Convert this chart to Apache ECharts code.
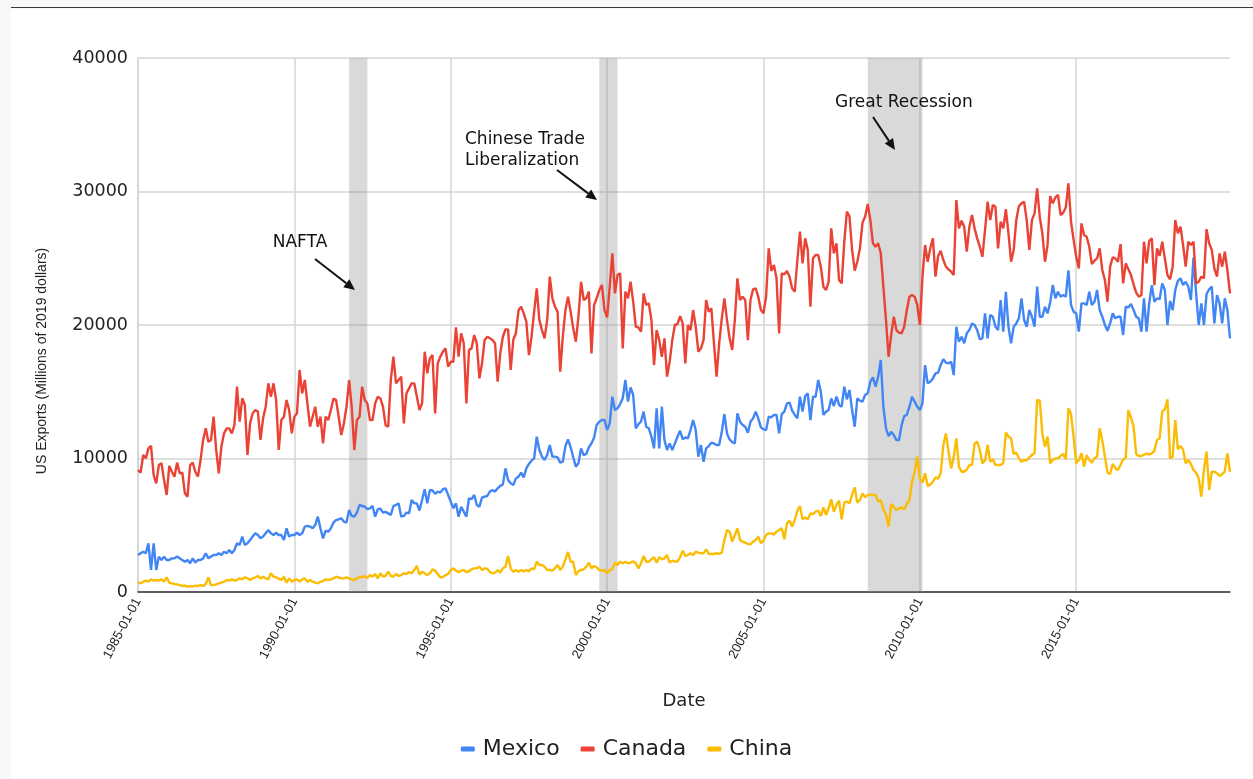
<!DOCTYPE html>
<html>
<head>
<meta charset="utf-8">
<title>US Exports to Mexico, Canada and China</title>
<script src="https://cdn.jsdelivr.net/npm/echarts/dist/echarts.min.js"></script>
<style>
  html, body { margin: 0; padding: 0; background: #f7f7f7; }
  #rule { position: absolute; left: 11px; right: 0; top: 7px; height: 1px; background: #3a3a3a; }
  #panel { position: absolute; left: 11px; right: 0; top: 9px; bottom: 0; background: #ffffff; }
  #chart { position: absolute; left: 0; top: 0; width: 1253px; height: 779px; }
</style>
</head>
<body>
<div id="rule"></div>
<div id="panel"></div>
<div id="chart"></div>
<script>
// Monthly US exports, millions of 2019 dollars, January 1985 to December 2019.
const startYear = 1985;
const monthCount = 420;

const mexico = [
  2770, 2900, 3020, 2900, 3650, 1650, 3650, 1650, 2650, 2400, 2650, 2400, 2400, 2520, 2520, 2650, 2520, 2400, 2270, 2400,
  2150, 2520, 2200, 2400, 2400, 2520, 2900, 2520, 2650, 2770, 2770, 2900, 2770, 3020, 2900, 3150, 2900, 3150, 3650, 3520,
  4150, 3520, 3650, 3900, 4150, 4400, 4270, 4020, 4150, 4400, 4650, 4400, 4270, 4440, 4270,
  4270, 3900, 4770, 4150, 4270, 4270, 4450, 4270, 4400, 4900, 4950, 4900, 4770, 5020, 5640, 4770, 4020, 4600, 4520, 4770,
  5200, 5390, 5440, 5520, 5270, 5200, 6140, 5700, 5640, 5950, 6520, 6440, 6390, 6200, 6270, 6440, 5640, 6200, 6250, 5950,
  6000, 5890, 5770, 6440, 6520, 6640, 5640, 5700, 5950, 5890, 6890, 6640, 6640, 6100,
  6890, 7700, 6640, 7640, 7600, 7350, 7520, 7450, 7700, 7770, 7270, 6770, 6270, 6640, 5640, 6390, 6020, 5640, 7020, 6950,
  7270, 6520, 6390, 7080, 7140, 7190, 7520, 7640, 7520, 7770, 7950, 8060, 9260, 8390, 8140, 8010, 8510, 8640, 8940, 8590,
  9260, 9590, 9840, 10010, 11630, 10640, 10140, 9890, 10260, 11010, 10140, 10140, 10090, 9690,
  9760, 10930, 11430, 10840, 10090, 9390, 9640, 10760, 10260, 10340, 10840, 11130, 11580, 12510, 12760, 12880, 12880, 12130, 12630, 14630,
  13630, 13760, 14080, 14510, 15880, 14260, 15330, 14760, 12260, 12580, 12760, 13510, 12380, 12260, 11630, 10760, 13760, 10760, 13880, 11380,
  10640, 11130, 10640, 11130, 11630, 12080, 11450, 11580, 11510, 12130, 12880, 12130, 10140,
  11010, 9760, 10760, 10930, 11180, 11130, 11010, 11010, 12010, 13330, 11880, 11430, 11230, 11130, 13380, 12760, 12510, 12380, 11930, 12760,
  13010, 13510, 13010, 12330, 12180, 12130, 13130, 13080, 13260, 13260, 11880, 13330, 13510, 14130, 14180, 13580, 13260, 13010, 14630, 13510,
  14680, 14880, 12880, 14630, 14630, 15880, 15000, 13260, 13510, 13630, 14500, 13930, 14630, 14010,
  13880, 15380, 14430, 15130, 13630, 12380, 14510, 14330, 14260, 14760, 14880, 15750, 16080, 15380, 16130, 17380, 13880, 12250, 11680, 12000,
  11760, 11380, 11380, 12510, 13180, 13260, 13880, 14630, 14260, 13880, 13630, 14130, 17000, 15630, 15750, 16000, 16380, 16440, 17000, 17440,
  17180, 17130, 17250, 16250, 19870, 18750, 19120, 18630, 19380, 19620, 20120, 20000, 19620, 18930,
  19000, 20870, 19000, 20750, 20620, 19870, 19620, 21870, 19500, 22490, 19870, 18620, 19870, 20120, 20500, 22000, 20370, 19870, 21120, 20620,
  19870, 22870, 20620, 20620, 21370, 20870, 21680, 22990, 22000, 22490, 22120, 22240, 22120, 24100, 21500, 21000, 20870, 19500, 21620, 21620,
  21500, 22490, 21500, 21740, 22620, 21120, 20620, 20000, 19570, 20120, 20870, 20500, 20620, 20620,
  19250, 21370, 21320, 21570, 21120, 20620, 20500, 19500, 22000, 19500, 21620, 22990, 21740, 22000, 21930, 23120, 22620, 20000, 21800, 21120,
  22620, 23300, 23500, 22990, 23240, 22870, 21870, 25060, 22370, 20000, 21620, 20000, 22320, 22670, 22870, 20120, 22240, 21620, 20120, 22000,
  21120, 19000
];

const canada = [
  9140, 8940, 10260, 10010, 10760, 10940, 8760, 8140, 9510, 9640, 8390, 7270, 9440, 9010, 8640, 9690, 8890, 8940, 7390, 7140,
  9510, 9690, 9010, 8640, 9890, 11390, 12260, 11260, 11390, 13130, 10640, 8890, 10890, 11880, 12260, 12260, 11880, 12510, 15380, 12760,
  14510, 14010, 10260, 12630, 13380, 13630, 13510, 11390, 13010, 13880, 15630, 14630, 15630, 14380, 10640,
  12880, 13130, 14380, 13630, 11880, 13130, 13380, 16630, 14880, 15880, 14130, 12380, 13130, 13880, 12380, 13130, 11130, 13130, 12880, 13630,
  14500, 14380, 13130, 11760, 12630, 13880, 15880, 13880, 10640, 12880, 13130, 15380, 14380, 14130, 12880, 12880, 14130, 14630, 14500, 13880,
  12500, 12380, 15880, 17630, 15630, 15880, 16130, 12630, 14880, 15250, 15630, 15630, 14630, 13630,
  14130, 18000, 16380, 17500, 17750, 13380, 17130, 17630, 18000, 18250, 16880, 17250, 17250, 19820, 17630, 19370, 18630, 14130, 18130, 18250,
  19250, 18630, 16000, 17130, 18880, 19120, 19000, 18880, 18630, 15750, 17880, 19120, 19670, 19670, 16630, 18880, 19400, 21100, 21370, 20870,
  20250, 17750, 19120, 21000, 22740, 20370, 19620, 19000, 20370, 23620, 22000, 21370, 21000, 16500,
  19120, 21120, 22120, 21000, 19750, 18750, 20620, 23240, 21870, 22000, 22500, 17870, 21500, 22000, 22620, 23000, 21120, 20570, 22870, 25370,
  22370, 23740, 23870, 18250, 22500, 22000, 23240, 21750, 19870, 19820, 19500, 22370, 21500, 21620, 20370, 17000, 19620, 18870, 17620, 19000,
  16130, 17250, 18870, 20000, 20070, 20670, 20120, 17130, 20000, 19620, 21120, 19870, 18000,
  18250, 18870, 21870, 21000, 21250, 18630, 16130, 18630, 20500, 22000, 20370, 19000, 18130, 20370, 23500, 21870, 22120, 21870, 18870, 21870,
  22670, 22740, 22120, 21120, 20870, 22120, 25740, 24050, 24490, 23500, 19370, 23870, 23800, 24050, 23620, 22740, 22500, 24870, 26990, 24620,
  26490, 25620, 21370, 25000, 25240, 25240, 24370, 22870, 22620, 23240, 27240, 25370, 26120, 23370,
  23120, 26240, 28500, 28120, 25620, 24070, 24740, 25740, 27670, 28120, 29060, 27860, 26120, 25860, 26120, 25370, 22870, 20370, 17620, 19250,
  20620, 19620, 19430, 19380, 19870, 21120, 22120, 22250, 22120, 21500, 20000, 23620, 25990, 24740, 25740, 26490, 23620, 25170, 25560, 24870,
  24370, 24170, 23990, 23740, 29360, 27240, 27810, 27360, 25490, 27360, 28240, 27240, 26490, 25860,
  25110, 27110, 29230, 27860, 28990, 28860, 25740, 27740, 27240, 28670, 26860, 24740, 25620, 27860, 28910, 29110, 29230, 27860, 25620, 27860,
  28360, 30230, 28110, 26860, 24740, 25990, 29660, 29110, 29560, 29740, 28240, 28410, 28810, 30610, 27740, 26370, 25110, 24240, 27610, 26740,
  26610, 25860, 24570, 24820, 24990, 25740, 24120, 23370, 21740, 24370, 25060, 24990, 24740, 26060,
  23120, 24620, 24180, 23740, 23050, 22420, 22120, 22240, 26240, 24620, 26300, 26490, 22990, 25740, 25170, 26240, 24990, 23740, 23420, 24370,
  27860, 26870, 27360, 25990, 24370, 26240, 25990, 26240, 23120, 23240, 23620, 23500, 27180, 26120, 25620, 24240, 23620, 25360, 24370, 25490,
  24120, 22370
];

const china = [
  700, 650, 770, 850, 770, 950, 850, 900, 850, 950, 770, 1100, 700, 650, 600, 570, 520, 450, 470, 400,
  450, 400, 470, 450, 520, 450, 600, 1100, 520, 520, 570, 650, 700, 770, 900, 850, 950, 850, 900, 1020,
  950, 1100, 1020, 900, 1020, 1100, 1200, 1020, 1150, 1020, 950, 1400, 1150, 1100, 1000,
  900, 1150, 700, 1020, 770, 900, 950, 770, 950, 1020, 770, 900, 770, 700, 650, 770, 820, 950, 900, 950,
  1020, 1150, 1100, 1020, 1020, 1100, 1020, 950, 900, 1020, 1150, 1100, 1200, 1050, 1270, 1150, 1350, 1020, 1400, 1150,
  1200, 1520, 1200, 1150, 1350, 1200, 1270, 1400, 1350, 1500, 1400, 1650, 1950, 1300,
  1520, 1400, 1270, 1400, 1700, 1600, 1350, 1100, 1120, 1270, 1350, 1650, 1770, 1600, 1480, 1600, 1650, 1480, 1550, 1700,
  1770, 1770, 1900, 1650, 1770, 1750, 1500, 1400, 1450, 1650, 1450, 1770, 1900, 2700, 1770, 1520, 1650, 1520, 1650, 1550,
  1650, 1550, 1770, 1700, 2270, 2020, 2020, 1900, 1650, 1650, 1600, 1770, 2020, 1650,
  1900, 2450, 3000, 2270, 2270, 1270, 1570, 1650, 1700, 1900, 2200, 1770, 1950, 1850, 1650, 1600, 1650, 1400, 1650, 1700,
  2200, 2020, 2270, 2150, 2270, 2150, 2200, 2300, 2150, 1770, 2150, 2700, 2270, 2270, 2450, 2600, 2200, 2600, 2450, 2520,
  2770, 2200, 2350, 2270, 2300, 2600, 3100, 2700, 2770, 2900, 2770, 3020, 2950,
  2900, 2900, 3200, 2850, 2850, 2850, 2900, 2850, 2950, 3900, 4640, 4520, 3770, 4270, 4770, 3900, 3770, 3700, 3600, 3570,
  3770, 3900, 4140, 3650, 3850, 4270, 4390, 4390, 4300, 4520, 4640, 4770, 3950, 5140, 5340, 4900, 5390, 6090, 6440, 5440,
  5590, 5440, 5890, 5840, 6020, 6090, 5690, 6340, 5770, 6270, 6940, 6020, 6520, 6840,
  5440, 6690, 6770, 6640, 7270, 7840, 6690, 6890, 7390, 7090, 7270, 7290, 7270, 7270, 6770, 6890, 6190, 5820, 4890, 6590,
  6390, 6140, 6270, 6340, 6190, 6590, 6890, 8260, 9010, 10140, 8510, 8190, 8890, 7940, 8040, 8260, 8590, 8490, 8890, 11010,
  11880, 10510, 9260, 10140, 11510, 9390, 9010, 9010, 9190, 9510, 9510, 11130, 11260, 10640,
  9640, 9840, 11010, 9760, 9940, 9510, 9510, 9510, 9640, 11950, 11640, 11510, 10340, 10440, 10010, 9760, 9890, 9840, 10090, 10260,
  10390, 14380, 14330, 11880, 10890, 11640, 9640, 9890, 10010, 10010, 10190, 10340, 9940, 13760, 13330, 11640, 9640, 9890, 10390, 9390,
  10260, 9890, 9690, 10010, 10140, 12260, 11340, 10140, 8940, 8840, 9590, 9260, 9140, 9510,
  9940, 10040, 13630, 13060, 12430, 10340, 10190, 10190, 10290, 10360, 10290, 10390, 10590, 11390, 11510, 13510, 13680, 14430, 10010, 10140,
  12880, 10690, 10940, 10640, 9640, 9890, 9590, 9140, 8940, 8510, 7140, 9140, 10510, 7640, 9010, 9010, 8890, 8690, 8840, 9010,
  10390, 9010
];

// Month labels, first of each month.
const months = [];
for (let i = 0; i < monthCount; i++) {
  const y = startYear + Math.floor(i / 12);
  const m = (i % 12) + 1;
  months.push(y + '-' + (m < 10 ? '0' : '') + m + '-01');
}

// Dates that carry a labelled gridline on the x axis.
const tickDates = ['1985-01-01', '1990-01-01', '1995-01-01', '2000-01-01', '2005-01-01', '2010-01-01', '2015-01-01'];

// Shaded periods.
const periods = [
  ['1991-10-01', '1992-05-01'],
  ['1999-10-01', '2000-05-01'],
  ['2008-05-01', '2010-02-01']
];

const seriesNames = ['Mexico', 'Canada', 'China'];
const seriesColors = ['#4285f4', '#ea4335', '#fbbc04'];
const seriesData = [mexico, canada, china];

const gridColor = '#d4d4d4';
const textColor = '#222222';
const onTick = (idx, val) => tickDates.indexOf(val) !== -1;

// Annotation arrows, drawn as a line plus a filled head.
function arrow(x1, y1, x2, y2) {
  const ang = Math.atan2(y2 - y1, x2 - x1);
  const len = 11, half = 5;
  const bx = x2 - len * Math.cos(ang), by = y2 - len * Math.sin(ang);
  const px = -Math.sin(ang) * half, py = Math.cos(ang) * half;
  return [
    { type: 'line', shape: { x1: x1, y1: y1, x2: bx, y2: by }, style: { stroke: '#111', lineWidth: 2 }, z: 100 },
    { type: 'polygon', shape: { points: [[x2, y2], [bx + px, by + py], [bx - px, by - py]] }, style: { fill: '#111' }, z: 100 }
  ];
}

function label(text, x, y, align) {
  return {
    type: 'text', x: x, y: y, z: 100,
    style: { text: text, fill: '#111', font: '17px "DejaVu Sans"', align: align, verticalAlign: 'middle' }
  };
}

const chart = echarts.init(document.getElementById('chart'), null, { renderer: 'canvas' });

const series = [{
  name: 'periods',
  type: 'line',
  data: [],
  silent: true,
  z: 1,
  markArea: {
    silent: true,
    itemStyle: { color: 'rgba(140,140,140,0.33)' },
    data: periods.map(p => [{ xAxis: p[0] }, { xAxis: p[1] }])
  }
}];
seriesNames.forEach((name, i) => {
  series.push({
    name: name,
    type: 'line',
    data: seriesData[i],
    showSymbol: false,
    symbol: 'none',
    z: 3,
    lineStyle: { color: seriesColors[i], width: 2.4 },
    itemStyle: { color: seriesColors[i] },
    emphasis: { disabled: true }
  });
});

chart.setOption({
  animation: false,
  backgroundColor: 'transparent',
  grid: { left: 138, right: 23, top: 58, bottom: 187, containLabel: false },
  legend: {
    data: seriesNames,
    left: 'center',
    top: 733,
    icon: 'roundRect',
    itemWidth: 14,
    itemHeight: 5,
    itemGap: 21,
    textStyle: { fontFamily: 'DejaVu Sans', fontSize: 22, color: textColor, padding: [0, 0, 0, 3] }
  },
  xAxis: {
    type: 'category',
    data: months,
    boundaryGap: false,
    name: 'Date',
    nameLocation: 'middle',
    nameGap: 100,
    nameTextStyle: { fontFamily: 'DejaVu Sans', fontSize: 18, color: textColor },
    axisLine: { lineStyle: { color: '#333333', width: 1.5 } },
    axisTick: { show: false },
    axisLabel: {
      interval: onTick,
      rotate: 62,
      margin: 7,
      fontFamily: 'Liberation Sans',
      fontSize: 13,
      color: textColor
    },
    splitLine: { show: true, interval: onTick, lineStyle: { color: gridColor, width: 1.5 } }
  },
  yAxis: {
    type: 'value',
    min: 0,
    max: 40000,
    interval: 10000,
    axisLine: { show: true, lineStyle: { color: gridColor, width: 1.5 } },
    axisTick: { show: false },
    axisLabel: {
      fontFamily: 'DejaVu Sans', fontSize: 17.5, color: textColor, margin: 10,
      formatter: v => String(v)
    },
    splitLine: { show: true, lineStyle: { color: gridColor, width: 1.5 } }
  },
  graphic: [
    {
      type: 'text', x: 42, y: 361, rotation: Math.PI / 2,
      style: { text: 'US Exports (Millions of 2019 dollars)', fill: textColor, font: '14px "Liberation Sans"', align: 'center', verticalAlign: 'middle' }
    },
    label('NAFTA', 300, 243, 'center'),
    label('Chinese Trade', 465, 140, 'left'),
    label('Liberalization', 465, 161, 'left'),
    label('Great Recession', 835, 103, 'left'),
    ...arrow(315, 259, 355, 290),
    ...arrow(557, 170, 597, 200),
    ...arrow(873, 117, 895, 150)
  ],
  series: series
});
</script>
</body>
</html>
